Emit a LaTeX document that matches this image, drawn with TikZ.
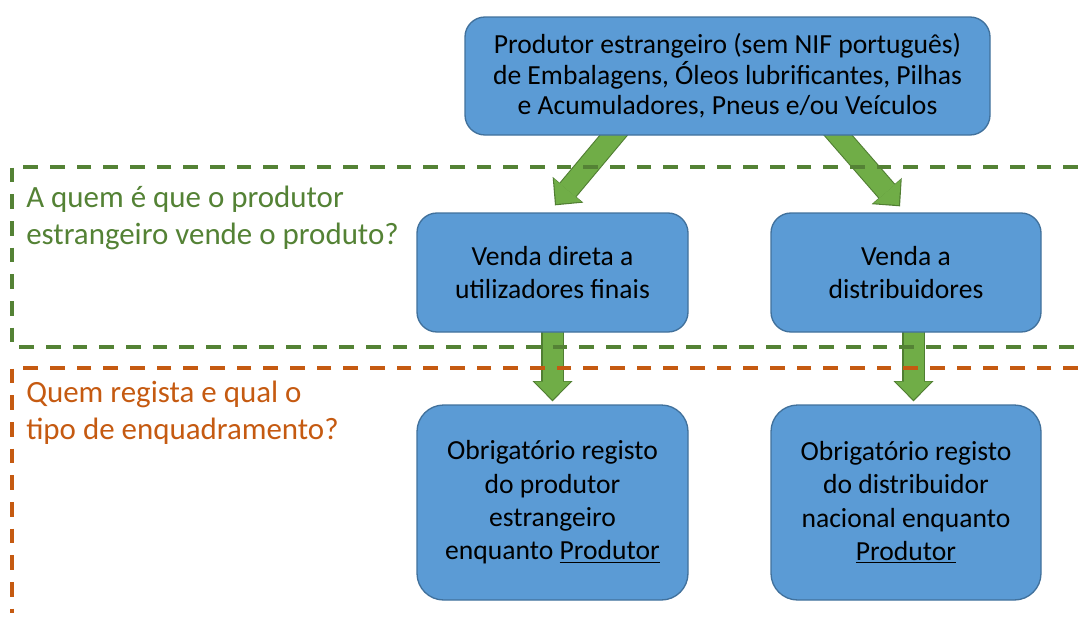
\documentclass[tikz,border=0pt]{standalone}
\usepackage{fontspec}
\setmainfont{Carlito}
\usetikzlibrary{arrows.meta,calc,backgrounds}
\definecolor{boxfill}{HTML}{5B9BD5}
\definecolor{boxline}{HTML}{41719C}
\definecolor{arrowfill}{HTML}{70AD47}
\definecolor{arrowline}{HTML}{507E32}
\definecolor{greenline}{HTML}{548235}
\definecolor{orangeline}{HTML}{C55A11}
\begin{document}
\begin{tikzpicture}[x=0.75pt, y=-0.75pt,
	box/.style={draw=boxline, fill=boxfill, line width=1pt, rounded corners=15pt,
		align=center, text=black, font=\fontsize{20.7}{25}\selectfont},
	question/.style={anchor=west, inner sep=0pt, align=left, font=\fontsize{23.2}{27.5}\selectfont},
	framedash/.style={line width=2.6pt, dash pattern=on 11pt off 9pt},
	greenarrow/.style={draw=arrowfill, line width=15pt, shorten >=1.3pt,
		-{Triangle[width=27pt, length=13.5pt, line width=0pt]},
		preaction={draw=arrowline, line width=16.6pt, shorten >=0pt,
			-{Triangle[width=30pt, length=15.2pt, line width=0pt]}}}]
	\useasboundingbox (0,0) rectangle (1078,621);
	% dashed frames
	\draw [framedash, greenline] (1078,167) -- (12,167) -- (12,347) -- (1078,347);
	\draw [framedash, orangeline] (1078,368) -- (12,368) -- (12,613);
	\node [question, text=greenline] (qvende) at (26,218) {A quem é que o produtor\\estrangeiro vende o produto?};
	\node [question, text=orangeline] (qregisto) at (26,413) {Quem regista e qual o\\tipo de enquadramento?};
	% boxes
	\node [box, font=\fontsize{20.7}{23}\selectfont, minimum width=393.75pt, minimum height=88.5pt] (top) at (727.5,76)
		{Produtor estrangeiro (sem NIF português)\\de Embalagens, Óleos lubrificantes, Pilhas\\e Acumuladores, Pneus e/ou Veículos};
	\node [box, minimum width=203.25pt, minimum height=89.25pt] (direta) at (552.5,272.5)
		{Venda direta a\\utilizadores finais};
	\node [box, minimum width=202.5pt, minimum height=89.25pt] (distrib) at (906,272.5)
		{Venda a\\distribuidores};
	\node [box, rounded corners=20pt, minimum width=203.25pt, minimum height=146.25pt] (regprod) at (552.5,502.5)
		{Obrigatório registo\\do produtor\\estrangeiro\\enquanto \underline{Produtor}};
	\node [box, rounded corners=20pt, minimum width=202.5pt, minimum height=146.25pt] (regdist) at (906,502.5)
		{Obrigatório registo\\do distribuidor\\nacional enquanto\\\underline{Produtor}};
	% arrows
	\begin{pgfonlayer}{background}
	\draw [greenarrow] ($(top.south)+(-107.5,-8)$) -- ($(direta.north)+(2.5,-7)$);
	\draw [greenarrow] ($(top.south)+(104,-8)$) -- ($(distrib.north)+(-6,-6)$);
	\draw [greenarrow] ($(direta.south)+(0,-5)$) -- ($(regprod.north)+(0,-3)$);
	\draw [greenarrow] ($(distrib.south)+(7.5,-5)$) -- ($(regdist.north)+(7.5,-3)$);
	\end{pgfonlayer}
\end{tikzpicture}
\end{document}
